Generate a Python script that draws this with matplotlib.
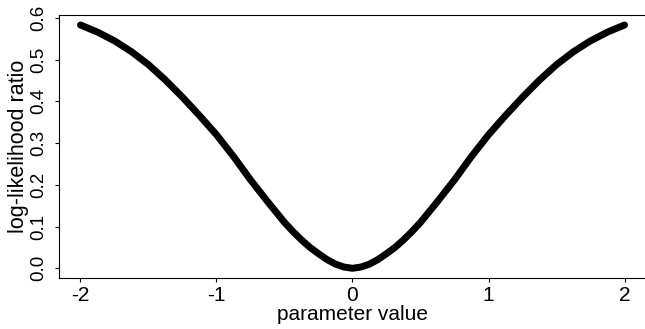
import matplotlib
matplotlib.use("Agg")
import matplotlib.pyplot as plt

# values (left half, the right half is the mirror)
param = [-2.0, -1.875, -1.75, -1.625, -1.5, -1.375, -1.25, -1.125, -1.0,
         -0.875, -0.75, -0.625, -0.5, -0.4375, -0.375, -0.3125, -0.25,
         -0.1875, -0.125, -0.0625, 0.0,
         0.0625, 0.125, 0.1875, 0.25, 0.3125, 0.375, 0.4375, 0.5,
         0.625, 0.75, 0.875, 1.0, 1.125, 1.25, 1.375, 1.5,
         1.625, 1.75, 1.875, 2.0]
llr = [0.583, 0.566, 0.545, 0.519, 0.488, 0.451, 0.410, 0.366, 0.320,
       0.268, 0.212, 0.160, 0.110, 0.088, 0.068, 0.050, 0.035,
       0.021, 0.010, 0.003, 0.0,
       0.003, 0.010, 0.021, 0.035, 0.050, 0.068, 0.088, 0.110,
       0.160, 0.212, 0.268, 0.320, 0.366, 0.410, 0.451, 0.488,
       0.519, 0.545, 0.566, 0.583]

xticks = [-2, -1, 0, 1, 2]
yticks = [0.0, 0.1, 0.2, 0.3, 0.4, 0.5, 0.6]

plt.rcParams['font.family'] = ['Liberation Sans', 'DejaVu Sans']

fig = plt.figure(figsize=(6.45, 3.29), dpi=100)
ax = fig.add_axes([0.091, 0.155, 0.911, 0.799])

ax.plot(param, llr, color='black', lw=5, solid_capstyle='round', solid_joinstyle='round')

ax.set_xlim(-2.16, 2.16)
ax.set_ylim(-0.0233, 0.6066)
ax.set_xticks(xticks)
ax.set_xticklabels([str(t) for t in xticks])
ax.set_yticks(yticks)
ax.set_yticklabels(['%.1f' % t for t in yticks], rotation=90, va='center')
ax.tick_params(axis='both', length=3, width=0.8, direction='out')
ax.tick_params(axis='x', pad=3, labelsize=15)
ax.tick_params(axis='y', pad=5, labelsize=13.5)

ax.spines['right'].set_visible(False)
for s in ['left', 'top', 'bottom']:
    ax.spines[s].set_linewidth(0.8)

ax.set_xlabel('parameter value', fontsize=15, labelpad=0)
ax.set_ylabel('log-likelihood ratio', fontsize=15.5)
ax.yaxis.set_label_coords(-0.05, 0.5)

fig.savefig('out.png', dpi=100)
